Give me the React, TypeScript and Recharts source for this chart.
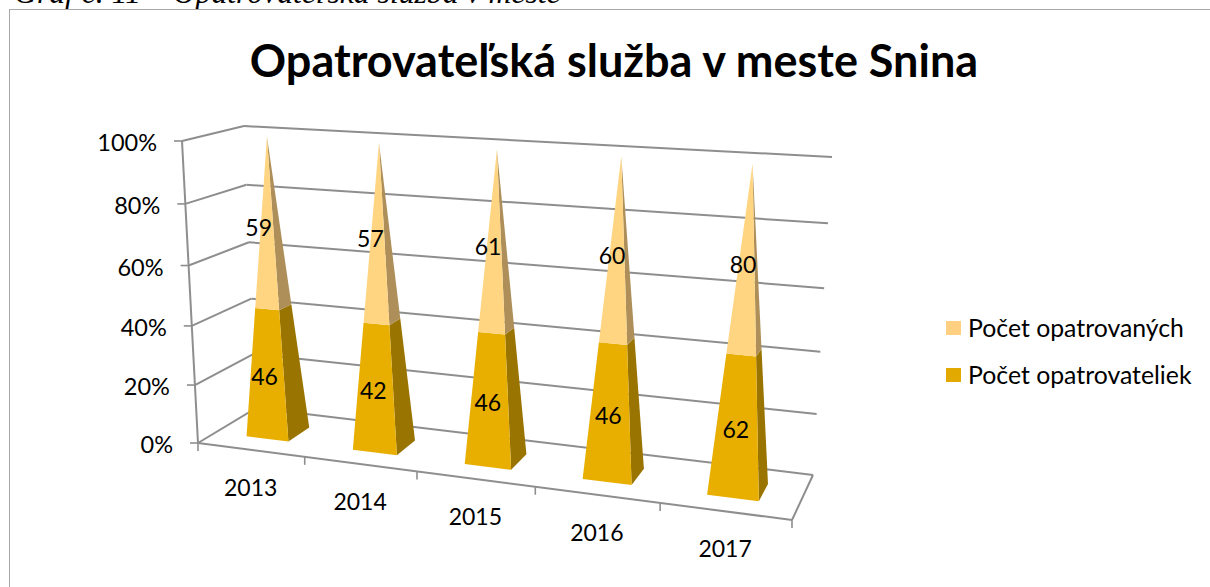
import { BarChart, Bar, XAxis, YAxis, CartesianGrid, Legend, LabelList } from 'recharts';

const years = ['2013', '2014', '2015', '2016', '2017'];
const opatrovanych = [59, 57, 61, 60, 80];
const opatrovateliek = [46, 42, 46, 46, 62];
const yTicks = [0, 0.2, 0.4, 0.6, 0.8, 1];

const data = years.map((year, i) => ({
    year,
    opatrovateliek: opatrovateliek[i],
    opatrovanych: opatrovanych[i],
}));

const FONT = 'Lato, sans-serif';
const LINE = '#8e8e8e';

// flat plot area that recharts lays out, everything is then projected onto the 3D box
const PLOT = { left: 100, top: 100, width: 600, height: 300 };

// box corners on screen: floor and ceiling, front/back, left/right
const FLOOR = { fl: [198, 443], fr: [792, 520], bl: [256, 408], br: [813, 475] };
const CEIL = { fl: [182, 141], fr: [810, 178], bl: [244, 126], br: [832, 157] };

const mix = (a: number[], b: number[], t: number) => [a[0] + (b[0] - a[0]) * t, a[1] + (b[1] - a[1]) * t];

// u along the years, v up the values, w into the depth (all 0..1)
const project = (u: number, v: number, w: number) => {
    const pu = (0.876 * u) / (1 - 0.124 * u);
    const pv = (0.95 * v) / (1 - 0.05 * v);
    const floor = mix(mix(FLOOR.fl, FLOOR.fr, pu), mix(FLOOR.bl, FLOOR.br, pu), w);
    const ceil = mix(mix(CEIL.fl, CEIL.fr, pu), mix(CEIL.bl, CEIL.br, pu), w);
    return mix(floor, ceil, pv);
};

const toU = (x: number) => (x - PLOT.left) / PLOT.width;
const toV = (y: number) => (PLOT.top + PLOT.height - y) / PLOT.height;
const pts = (list: number[][]) => list.map((p) => p.join(',')).join(' ');

const Seg = ({ a, b }: { a: number[]; b: number[] }) => (
    <line x1={a[0]} y1={a[1]} x2={b[0]} y2={b[1]} stroke={LINE} strokeWidth={2} />
);

// one horizontal grid value: left wall + back wall, the floor also gets the axis and outline
const WallLine = (props: any) => {
    const v = toV(props.y1);
    const floor = Math.abs(v) < 0.001;
    return (
        <g key={props.key}>
            <Seg a={project(0, v, 0)} b={project(0, v, 1)} />
            <Seg a={project(0, v, 1)} b={project(1, v, 1)} />
            {floor && <Seg a={project(0, 0, 0)} b={project(0, 1, 0)} />}
            {floor && <Seg a={project(0, 0, 0)} b={project(1, 0, 0)} />}
            {floor && <Seg a={project(1, 0, 0)} b={project(1, 0, 1)} />}
        </g>
    );
};

const YTick = (props: any) => {
    const p = project(0, toV(props.y), 0);
    return (
        <g>
            <line x1={p[0] - 8} y1={p[1]} x2={p[0]} y2={p[1]} stroke={LINE} strokeWidth={1.6} />
            <text x={p[0] - 25} y={p[1] + 10} textAnchor="end" fontFamily={FONT} fontSize={23.5} fill="#000">
                {Math.round(props.payload.value * 100)}%
            </text>
        </g>
    );
};

const XTick = (props: any) => {
    const u = toU(props.x);
    const band = 1 / years.length;
    const left = project(u - band / 2, 0, 0);
    const right = project(u + band / 2, 0, 0);
    const c = project(u, 0, 0);
    return (
        <g>
            <line x1={left[0]} y1={left[1]} x2={left[0]} y2={left[1] + 8} stroke={LINE} strokeWidth={1.6} />
            {props.index === years.length - 1 && (
                <line x1={right[0]} y1={right[1]} x2={right[0]} y2={right[1] + 8} stroke={LINE} strokeWidth={1.6} />
            )}
            <text x={c[0]} y={c[1] + 46} textAnchor="middle" fontFamily={FONT} fontSize={23} fill="#000">
                {props.payload.value}
            </text>
        </g>
    );
};

const DEPTH = 0.39;

// a slice of a square pyramid between two stacked values
const pyramidSlice = (front: string, side: string) => (props: any) => {
    const { x, y, width, height } = props;
    const uc = toU(x + width / 2);
    const du = width / PLOT.width / 2;
    const v0 = toV(y + height);
    const v1 = toV(y);
    const corner = (v: number, su: number, sw: number) =>
        project(uc + su * du * (1 - v), v, 0.5 + (sw * DEPTH * (1 - v)) / 2);
    return (
        <g>
            <polygon
                points={pts([corner(v0, 1, -1), corner(v0, 1, 1), corner(v1, 1, 1), corner(v1, 1, -1)])}
                fill={side}
            />
            <polygon
                points={pts([corner(v0, -1, -1), corner(v0, 1, -1), corner(v1, 1, -1), corner(v1, -1, -1)])}
                fill={front}
            />
        </g>
    );
};

const SliceLabel = (props: any) => {
    const { x, y, width, height, value } = props;
    const p = project(toU(x + width / 2), toV(y + height / 2), 0.3);
    return (
        <text x={p[0]} y={p[1] + 9} textAnchor="middle" fontFamily={FONT} fontSize={23} fill="#000">
            {value}
        </text>
    );
};

const LegendBox = ({ payload }: any) => (
    <div style={{ fontFamily: FONT, fontSize: 24.8, color: '#000' }}>
        {(payload || []).map((item: any) => (
            <div key={item.value} style={{ display: 'flex', alignItems: 'center', height: 47 }}>
                <span style={{ width: 15, height: 14, background: item.color, marginRight: 7 }} />
                {item.value}
            </div>
        ))}
    </div>
);

const App = () => (
    <div style={{ position: 'absolute', left: 0, top: 0, width: 1210, height: 587, background: '#fff', overflow: 'hidden' }}>
        <div style={{ position: 'absolute', left: 14, top: -25, fontFamily: '"Liberation Serif", serif', fontStyle: 'italic', fontSize: 31.7, lineHeight: '36px', whiteSpace: 'nowrap' }}>
            Graf č. 11 – Opatrovateľská služba v meste
        </div>
        <div style={{ position: 'absolute', left: 9, top: 9, width: 1300, height: 700, borderLeft: '1.5px solid #a8a8a8', borderTop: '1.5px solid #a8a8a8' }} />
        <div style={{ position: 'absolute', left: 9, width: 1210, textAlign: 'center', top: 32, fontFamily: FONT, fontWeight: 700, fontSize: 45, lineHeight: '56px', color: '#000', whiteSpace: 'nowrap' }}>
            Opatrovateľská služba v meste Snina
        </div>
        <div style={{ position: 'absolute', left: 0, top: 0 }}>
            <BarChart
                width={1210}
                height={587}
                data={data}
                stackOffset="expand"
                barCategoryGap="30%"
                margin={{ top: PLOT.top, left: PLOT.left - 1, right: 1210 - PLOT.left - PLOT.width, bottom: 587 - PLOT.top - PLOT.height - 1 }}
            >
                <CartesianGrid horizontal={WallLine} vertical={false} />
                <XAxis dataKey="year" height={1} axisLine={false} tickLine={false} interval={0} tick={XTick} />
                <YAxis width={1} domain={[0, 1]} ticks={yTicks} axisLine={false} tickLine={false} tick={YTick} />
                <Legend
                    layout="vertical"
                    align="center"
                    verticalAlign="middle"
                    wrapperStyle={{ position: 'absolute', left: 946, top: 304, width: 260, height: 94 }}
                    content={LegendBox}
                />
                <Bar
                    dataKey="opatrovateliek"
                    name="Počet opatrovateliek"
                    stackId="a"
                    fill="#E2A900"
                    isAnimationActive={false}
                    shape={pyramidSlice('#E8AF00', '#9A7400')}
                >
                    <LabelList dataKey="opatrovateliek" content={SliceLabel} />
                </Bar>
                <Bar
                    dataKey="opatrovanych"
                    name="Počet opatrovaných"
                    stackId="a"
                    fill="#FFCF82"
                    isAnimationActive={false}
                    shape={pyramidSlice('#FFD581', '#AE8F59')}
                >
                    <LabelList dataKey="opatrovanych" content={SliceLabel} />
                </Bar>
            </BarChart>
        </div>
    </div>
);

export default App;
